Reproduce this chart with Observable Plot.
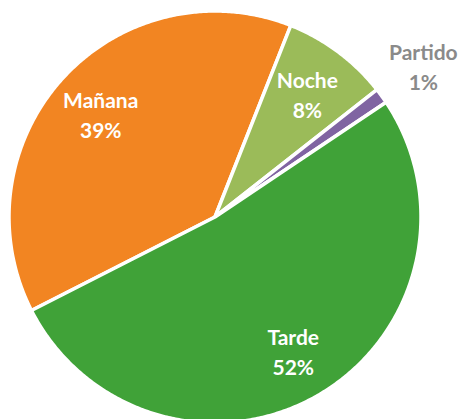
<!DOCTYPE html>
<html>
<head>
<meta charset="utf-8">
<script src="https://cdn.jsdelivr.net/npm/d3@7"></script>
<script src="https://cdn.jsdelivr.net/npm/@observablehq/plot@0.6"></script>
<style>
  html, body { margin: 0; padding: 0; background: #ffffff; }
  #chart svg { display: block; }
</style>
</head>
<body>
<div id="chart"></div>
<script>
const categories = ["Mañana", "Noche", "Partido", "Tarde"];
const values = [38.5, 8.4, 1.2, 51.9];
const colors = ["#F28522", "#9BBB59", "#8064A2", "#40A238"];
const labelColors = ["#ffffff", "#ffffff", "#8a8a8a", "#ffffff"];

const W = 458, H = 419;
const cx = 214.5, cy = 216.5, R = 206;
const startDeg = -117;

const pie = d3.pie().sort(null).value(d => d.value)
  .startAngle(startDeg * Math.PI / 180)
  .endAngle(startDeg * Math.PI / 180 + 2 * Math.PI);

const rows = categories.map((name, i) => ({name, value: values[i], color: colors[i], labelColor: labelColors[i]}));
const arcs = pie(rows);
const total = d3.sum(values);

const pt = (a, r) => ({x: cx + r * Math.sin(a), y: cy - r * Math.cos(a)});

// polygon points for each slice (center -> arc -> center)
const polys = [];
for (const a of arcs) {
  const n = Math.max(2, Math.ceil((a.endAngle - a.startAngle) / (Math.PI / 360)));
  polys.push({name: a.data.name, ...pt(0, 0)});
  for (let k = 0; k <= n; k++) {
    const ang = a.startAngle + (a.endAngle - a.startAngle) * k / n;
    polys.push({name: a.data.name, ...pt(ang, R)});
  }
  polys.push({name: a.data.name, ...pt(0, 0)});
}

const labels = arcs.map(a => {
  const mid = (a.startAngle + a.endAngle) / 2;
  const share = a.data.value / total;
  const r = share < 0.05 ? R * 1.25 : R * 0.75;
  return {
    ...pt(mid, r),
    text: `${a.data.name}\n${Math.round(share * 100)}%`,
    color: a.data.labelColor
  };
});

const chart = Plot.plot({
  width: W,
  height: H,
  margin: 0,
  x: {domain: [0, W], axis: null},
  y: {domain: [0, H], range: [0, H], axis: null},
  color: {domain: categories, range: colors},
  style: {fontFamily: "Lato, sans-serif", background: "#ffffff"},
  marks: [
    Plot.line(polys, {
      x: "x", y: "y", z: "name", fill: "name",
      stroke: "#ffffff", strokeWidth: 3.5, strokeLinejoin: "round"
    }),
    Plot.text(labels, {
      x: "x", y: "y", text: "text", fill: "color",
      fontSize: 21, fontWeight: "bold", fontFamily: "Lato, sans-serif",
      lineHeight: 1.43, lineAnchor: "middle", textAnchor: "middle"
    })
  ]
});
document.getElementById("chart").appendChild(chart);
</script>
</body>
</html>
